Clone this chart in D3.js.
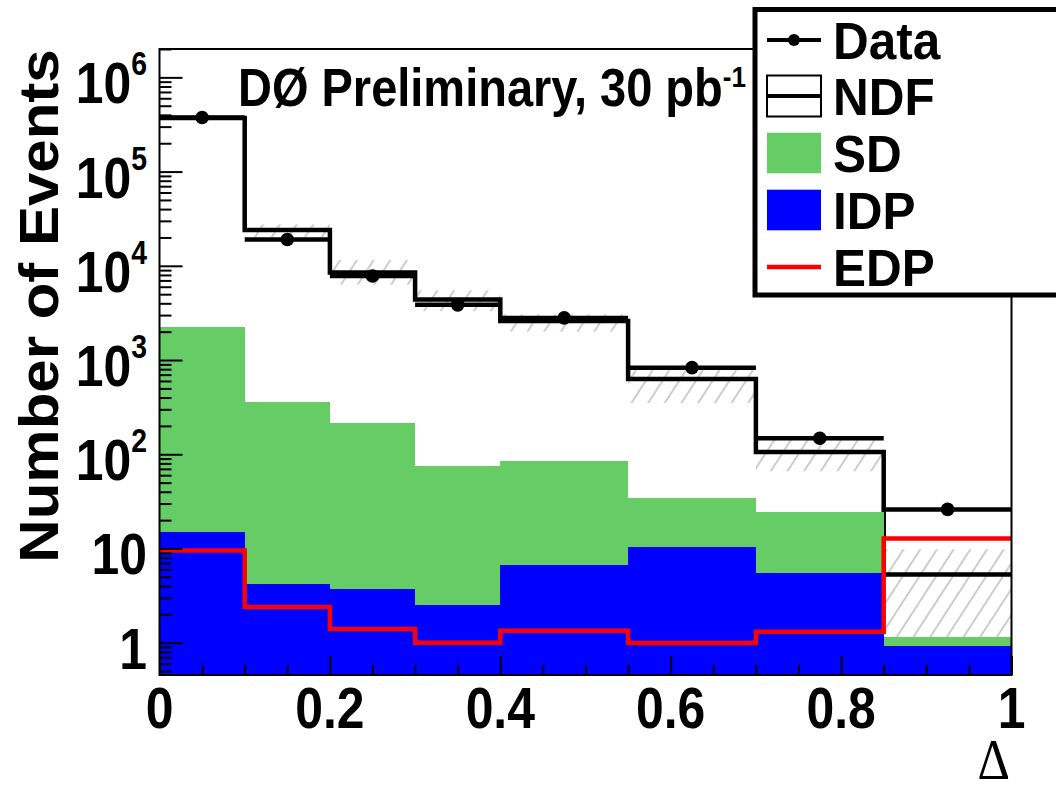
<!DOCTYPE html>
<html>
<head>
<meta charset="utf-8">
<script src="https://cdn.jsdelivr.net/npm/d3@7"></script>
<style>
  body { margin: 0; background: #fff; }
  svg { display: block; }
  text { font-family: "Liberation Sans", Arial, Helvetica, sans-serif; font-weight: bold; fill: #000; }
</style>
</head>
<body>
<svg id="chart" width="1056" height="792"></svg>
<script>
// Histogram binning in Delta (variable-width bins)
const binEdges = [0, 0.1, 0.2, 0.3, 0.4, 0.55, 0.7, 0.85, 1.0];

// Event counts per bin
const dataCounts = [3.75e5, 1.9e4, 7.8e3, 3.85e3, 2.8e3, 830, 148, 26];
const ndfCounts  = [3.7e5, 2.4e4, 8.5e3, 4.4e3, 2.6e3, 630, 106, 5.3];
const ndfBandLow  = [3.55e5, 2.0e4, 6.3e3, 3.3e3, 2.0e3, 350, 66, 0.8];
const ndfBandHigh = [3.85e5, 2.75e4, 1.15e4, 5.5e3, 3.05e3, 780, 143, 9.8];
const sdCounts  = [2260, 361, 213, 75, 85, 34, 24.5, 1.16];
const idpCounts = [14.8, 4.2, 3.7, 2.5, 6.6, 10.4, 5.5, 0.93];
const edpCounts = [9.5, 2.4, 1.4, 1.0, 1.34, 0.99, 1.31, 12.8];

// Axis labels
const xTickValues = [0, 0.2, 0.4, 0.6, 0.8, 1];
const xTickLabels = ["0", "0.2", "0.4", "0.6", "0.8", "1"];
const yTickValues = [1, 10, 1e2, 1e3, 1e4, 1e5, 1e6];
const yTickBase = ["1", "10", "10", "10", "10", "10", "10"];
const yTickExp  = ["", "", "2", "3", "4", "5", "6"];
const legendLabels = ["Data", "NDF", "SD", "IDP", "EDP"];

const GREEN = "#66cc66", BLUE = "#0000ff", RED = "#ff0000";

const svg = d3.select("#chart");
svg.append("rect").attr("width", 1056).attr("height", 792).attr("fill", "#fff");

const x = d3.scaleLinear().domain([0, 1]).range([159.5, 1011.5]);
const y = d3.scaleLog().domain([0.4543, 2e6]).range([675, 49]);
const yBase = y.range()[0];

// hatch pattern for the NDF uncertainty band
const defs = svg.append("defs");
const pat = defs.append("pattern")
  .attr("id", "hatch").attr("patternUnits", "userSpaceOnUse")
  .attr("width", 14).attr("height", 14)
  .attr("patternTransform", "rotate(33)");
pat.append("line").attr("x1", 7).attr("y1", 0).attr("x2", 7).attr("y2", 14)
  .attr("stroke", "#9a9a9a").attr("stroke-width", 1);

const bins = d3.range(binEdges.length - 1).map(i => ({ lo: binEdges[i], hi: binEdges[i + 1], i }));

// step-line helper for histogram outlines
const stepLine = d3.line().x(d => x(d[0])).y(d => y(d[1]));
const stepPoints = vals => bins.flatMap(b => [[b.lo, vals[b.i]], [b.hi, vals[b.i]]]);

// NDF uncertainty band
svg.append("g").selectAll("rect").data(bins).join("rect")
  .attr("x", b => x(b.lo)).attr("width", b => x(b.hi) - x(b.lo))
  .attr("y", b => y(ndfBandHigh[b.i]))
  .attr("height", b => y(ndfBandLow[b.i]) - y(ndfBandHigh[b.i]))
  .attr("fill", "url(#hatch)");

// NDF histogram
svg.append("path").attr("d", stepLine(stepPoints(ndfCounts)))
  .attr("fill", "none").attr("stroke", "#000").attr("stroke-width", 4.5);

// SD and IDP filled histograms
svg.append("g").selectAll("rect").data(bins).join("rect")
  .attr("x", b => x(b.lo)).attr("width", b => x(b.hi) - x(b.lo))
  .attr("y", b => y(sdCounts[b.i])).attr("height", b => yBase - y(sdCounts[b.i]))
  .attr("fill", GREEN).attr("shape-rendering", "crispEdges");
svg.append("g").selectAll("rect").data(bins).join("rect")
  .attr("x", b => x(b.lo)).attr("width", b => x(b.hi) - x(b.lo))
  .attr("y", b => y(idpCounts[b.i])).attr("height", b => yBase - y(idpCounts[b.i]))
  .attr("fill", BLUE).attr("shape-rendering", "crispEdges");

// EDP histogram outline
svg.append("path").attr("d", stepLine(stepPoints(edpCounts)))
  .attr("fill", "none").attr("stroke", RED).attr("stroke-width", 4.5);

// Data: bin-width bars with markers
const dataG = svg.append("g");
dataG.selectAll("line").data(bins).join("line")
  .attr("x1", b => x(b.lo)).attr("x2", b => x(b.hi))
  .attr("y1", b => y(dataCounts[b.i])).attr("y2", b => y(dataCounts[b.i]))
  .attr("stroke", "#000").attr("stroke-width", 4.5);
dataG.selectAll("circle").data(bins).join("circle")
  .attr("cx", b => x((b.lo + b.hi) / 2)).attr("cy", b => y(dataCounts[b.i]))
  .attr("r", 6.8).attr("fill", "#000");

// Frame
svg.append("rect").attr("x", x(0)).attr("y", y.range()[1])
  .attr("width", x(1) - x(0)).attr("height", yBase - y.range()[1])
  .attr("fill", "none").attr("stroke", "#000").attr("stroke-width", 2);

// Ticks (pointing into the frame)
const noDomain = g => g.select(".domain").remove();
const tickStyle = g => g.selectAll("line").attr("stroke", "#000").attr("stroke-width", 2);
svg.append("g").attr("transform", `translate(${x(0)},0)`)
  .call(d3.axisRight(y).tickValues(yTickValues).tickSize(23).tickFormat(""))
  .call(noDomain).call(tickStyle);
const yMinor = y.ticks().filter(v => !yTickValues.includes(v));
svg.append("g").attr("transform", `translate(${x(0)},0)`)
  .call(d3.axisRight(y).tickValues(yMinor).tickSize(12).tickFormat(""))
  .call(noDomain).call(tickStyle);
svg.append("g").attr("transform", `translate(0,${yBase})`)
  .call(d3.axisTop(x).tickValues(xTickValues).tickSize(19).tickFormat(""))
  .call(noDomain).call(tickStyle);
const xMinor = x.ticks(20).filter(v => !xTickValues.some(t => Math.abs(t - v) < 1e-9));
svg.append("g").attr("transform", `translate(0,${yBase})`)
  .call(d3.axisTop(x).tickValues(xMinor).tickSize(10).tickFormat(""))
  .call(noDomain).call(tickStyle);

// narrow text helper
function label(parent, px, py, sx, anchor, size) {
  return parent.append("g").attr("transform", `translate(${px},${py}) scale(${sx},1)`)
    .append("text").attr("text-anchor", anchor).attr("font-size", size);
}

// Y tick labels
yTickValues.forEach((v, i) => {
  const t = label(svg, 147, y(v) + 26, 0.86, "end", 58);
  t.append("tspan").text(yTickBase[i]);
  if (yTickExp[i]) t.append("tspan").attr("font-size", 33).attr("dy", -28).text(yTickExp[i]);
});

// X tick labels
xTickValues.forEach((v, i) => {
  label(svg, x(v), 728, 0.86, "middle", 58).text(xTickLabels[i]);
});

// Axis titles
svg.append("g").attr("transform", "translate(58,306) rotate(-90) scale(1,0.93)")
  .append("text").attr("text-anchor", "middle").attr("font-size", 60).text("Number of Events");
label(svg, 1010, 779, 0.9, "end", 56)
  .style("font-family", "'Liberation Serif', 'DejaVu Serif', serif")
  .style("font-weight", "normal").text("Δ");

// Experiment label
const pre = label(svg, 238, 106, 0.87, "start", 54);
pre.append("tspan").text("DØ Preliminary, 30 pb");
pre.append("tspan").attr("font-size", 30).attr("dy", -19).text("-1");

// Legend
const lg = svg.append("g");
lg.append("rect").attr("x", 755).attr("y", 9.5).attr("width", 320).attr("height", 285.5)
  .attr("fill", "#fff").attr("stroke", "#000").attr("stroke-width", 5);
const rowY = [40, 96, 153, 210, 267];
const symL = 767, symR = 821;
// Data
lg.append("line").attr("x1", symL).attr("x2", symR).attr("y1", rowY[0]).attr("y2", rowY[0])
  .attr("stroke", "#000").attr("stroke-width", 4);
lg.append("circle").attr("cx", (symL + symR) / 2).attr("cy", rowY[0]).attr("r", 6).attr("fill", "#000");
// NDF
lg.append("rect").attr("x", symL).attr("y", rowY[1] - 20.5).attr("width", symR - symL).attr("height", 41)
  .attr("fill", "#fff").attr("stroke", "#000").attr("stroke-width", 2);
lg.append("line").attr("x1", symL).attr("x2", symR).attr("y1", rowY[1]).attr("y2", rowY[1])
  .attr("stroke", "#000").attr("stroke-width", 4);
// SD, IDP
lg.append("rect").attr("x", symL).attr("y", rowY[2] - 20.3).attr("width", symR - symL).attr("height", 40.6).attr("fill", GREEN);
lg.append("rect").attr("x", symL).attr("y", rowY[3] - 20.3).attr("width", symR - symL).attr("height", 40.6).attr("fill", BLUE);
// EDP
lg.append("line").attr("x1", symL).attr("x2", symR).attr("y1", rowY[4]).attr("y2", rowY[4])
  .attr("stroke", RED).attr("stroke-width", 4.5);
legendLabels.forEach((s, i) => {
  label(lg, 833, rowY[i] + 19, 0.97, "start", 51).text(s);
});
</script>
</body>
</html>
